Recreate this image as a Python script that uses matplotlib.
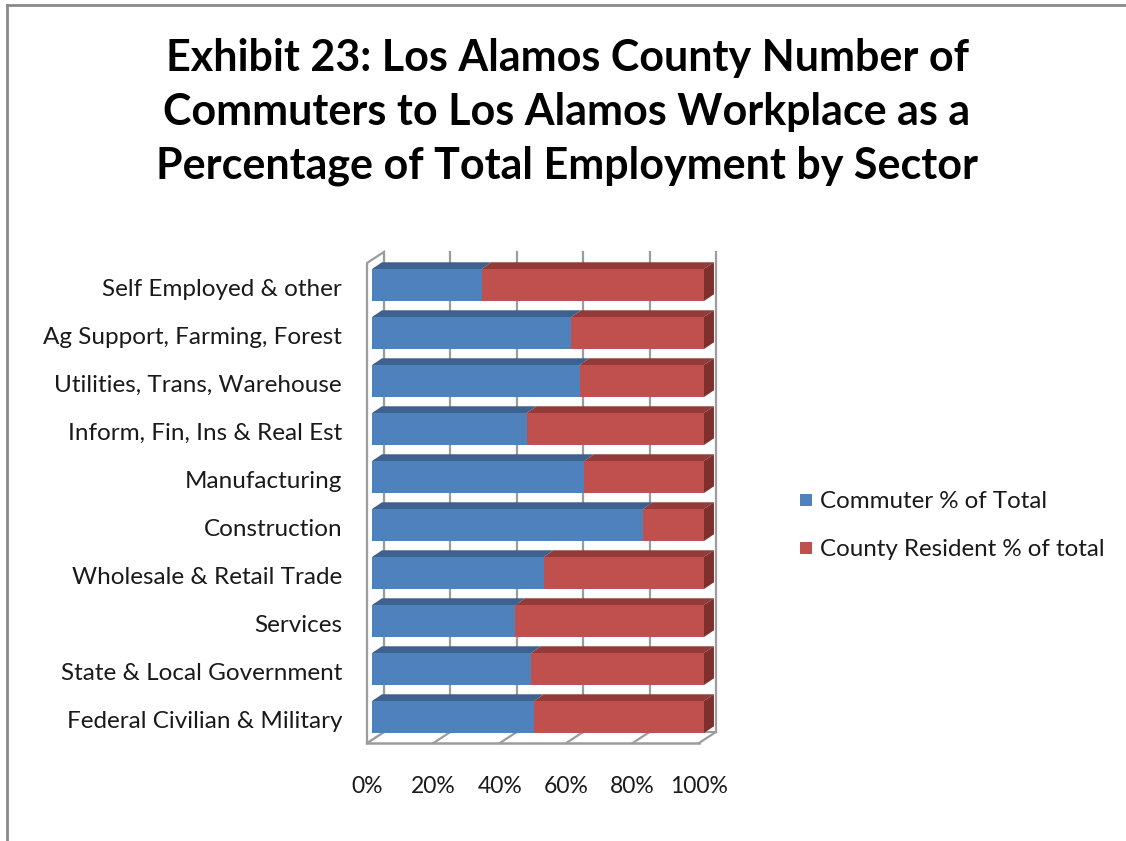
import matplotlib
matplotlib.use('Agg')
import matplotlib.pyplot as plt
from matplotlib.patches import Polygon, Rectangle
from matplotlib.lines import Line2D

sectors = ['Self Employed & other', 'Ag Support, Farming, Forest',
           'Utilities, Trans, Warehouse', 'Inform, Fin, Ins & Real Est',
           'Manufacturing', 'Construction', 'Wholesale & Retail Trade',
           'Services', 'State & Local Government', 'Federal Civilian & Military']
commuter = [33.0, 60.0, 62.5, 46.6, 63.9, 81.6, 51.7, 43.2, 47.9, 48.8]
resident = [67.0, 40.0, 37.5, 53.4, 36.1, 18.4, 48.3, 56.8, 52.1, 51.2]
xticks = [0, 20, 40, 60, 80, 100]
xlabels = ['0%', '20%', '40%', '60%', '80%', '100%']
title_lines = ['Exhibit 23: Los Alamos County Number of',
               'Commuters to Los Alamos Workplace as a',
               'Percentage of Total Employment by Sector']
legend_names = ['Commuter % of Total', 'County Resident % of total']

blue, blue_top = '#4f81bd', '#3c6290'
red, red_top, red_side = '#c0504d', '#933b38', '#7d302e'
grid_col = '#9c9c9c'

plt.rcParams['font.family'] = ['Lato', 'DejaVu Sans']

W, H = 1126, 841
fig = plt.figure(figsize=(W / 100, H / 100), dpi=100)

def fx(px):
    return px / W

def fy(py):
    return 1 - py / H

# plot box: x 0..100 on the bar front plane, one unit per category row
ax = fig.add_axes([fx(372), fy(743), fx(704) - fx(372), (743 - 263) / H])
ax.set_xlim(0, 100)
ax.set_ylim(-0.5417, 9.4583)
ax.axis('off')

# 3d box geometry (front/back planes of the floor and walls)
fx0, bx0 = -1.5, 3.6
f_floor, b_floor = -0.5417, -0.3125
f_top, b_top = 9.4583, 9.6875
# bar depth
ddx, ddy = 3.0, 0.14
bh = 0.667

# back wall gridlines
for p in xticks:
    ax.add_line(Line2D([bx0 + p, bx0 + p], [b_floor, b_top], color=grid_col,
                       lw=1.6, clip_on=False, zorder=1))
    ax.add_line(Line2D([fx0 + p, bx0 + p], [f_floor, b_floor], color=grid_col,
                       lw=1.6, clip_on=False, zorder=1))

# floor edges
ax.add_line(Line2D([fx0, fx0 + 100], [f_floor, f_floor], color=grid_col,
                   lw=1.8, clip_on=False, zorder=1))
ax.add_line(Line2D([bx0, bx0 + 100], [b_floor, b_floor], color=grid_col,
                   lw=1.4, clip_on=False, zorder=1))

# left side wall
ax.add_patch(Polygon([(fx0, f_floor), (fx0, f_top), (bx0, b_top), (bx0, b_floor)],
                     closed=True, facecolor='white', edgecolor=grid_col,
                     lw=1.6, clip_on=False, zorder=1.5))

ypos = list(range(len(sectors) - 1, -1, -1))

ax.barh(ypos, commuter, height=bh, color=blue, zorder=3)
ax.barh(ypos, resident, left=commuter, height=bh, color=red, zorder=3)

for y, c, r in zip(ypos, commuter, resident):
    top = y + bh / 2
    bot = y - bh / 2
    end = c + r
    ax.add_patch(Polygon([(0, top), (c, top), (c + ddx, top + ddy), (ddx, top + ddy)],
                         closed=True, facecolor=blue_top, edgecolor='none',
                         clip_on=False, zorder=3))
    ax.add_patch(Polygon([(c, top), (end, top), (end + ddx, top + ddy), (c + ddx, top + ddy)],
                         closed=True, facecolor=red_top, edgecolor='none',
                         clip_on=False, zorder=3))
    ax.add_patch(Polygon([(end, bot), (end, top), (end + ddx, top + ddy), (end + ddx, bot + ddy)],
                         closed=True, facecolor=red_side, edgecolor='none',
                         clip_on=False, zorder=3))

# category labels
for y, name in zip(ypos, sectors):
    ax.text(-9.0, y - 0.09, name, ha='right', va='center', fontsize=17.5,
            color='#1a1a1a', clip_on=False)

# x tick labels
for p, lab in zip(xticks, xlabels):
    ax.text(fx0 + p, -1.44, lab, ha='center', va='center', fontsize=16.5,
            color='#1a1a1a', clip_on=False)

# title
for i, line in enumerate(title_lines):
    fig.text(fx(567), fy(71 + 54 * i), line, ha='center', va='baseline',
             fontsize=31, fontweight='bold', color='black')

# legend
for i, (name, col) in enumerate(zip(legend_names, [blue, red])):
    yc = 500 + 48 * i
    fig.patches.append(Rectangle((fx(800), fy(yc + 6)), 12 / W, 12 / H,
                                 transform=fig.transFigure, facecolor=col,
                                 edgecolor='none'))
    fig.text(fx(820), fy(yc + 1), name, ha='left', va='center', fontsize=17.4,
             color='#1a1a1a')

# outer frame (top and left edges)
fig.add_artist(Line2D([fx(7), 1], [fy(5), fy(5)], color='#8a8a8a', lw=2))
fig.add_artist(Line2D([fx(7), fx(7)], [fy(5), 0], color='#8a8a8a', lw=2))

fig.savefig('out.png', dpi=100, facecolor='white')
